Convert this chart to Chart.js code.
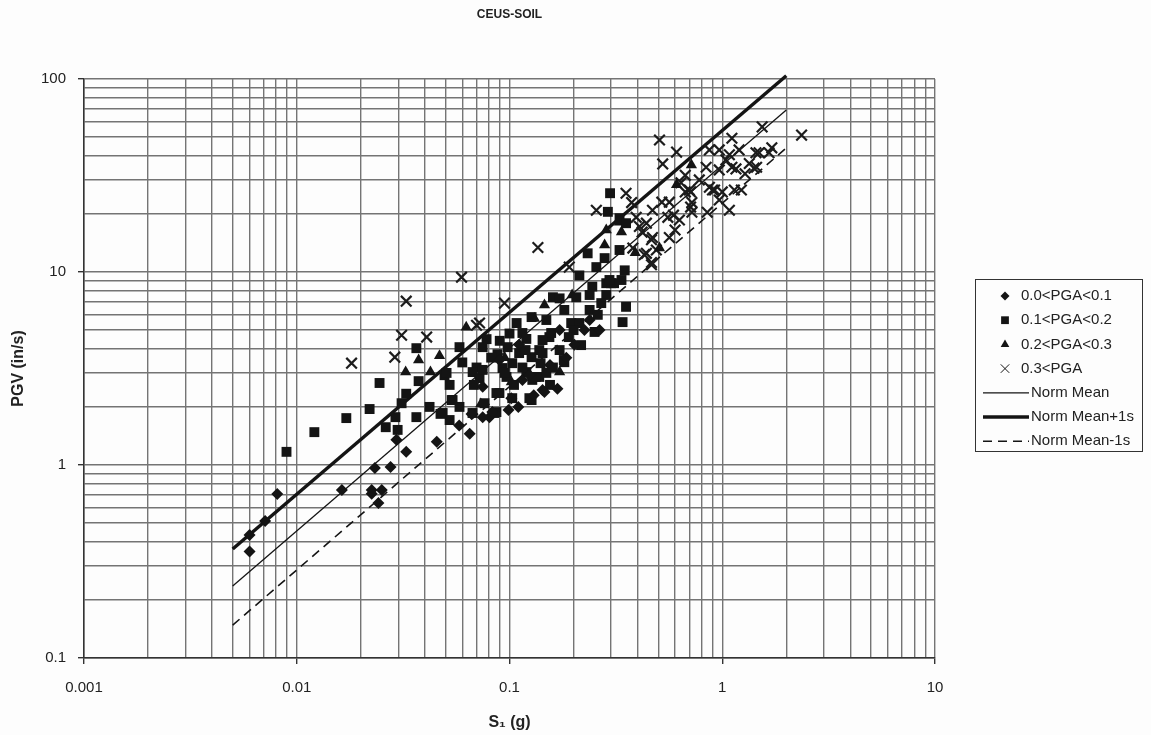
<!DOCTYPE html>
<html>
<head>
<meta charset="utf-8">
<script src="https://cdn.jsdelivr.net/npm/chart.js@4/dist/chart.umd.min.js"></script>
<style>
html, body { margin: 0; padding: 0; background: #fdfdfd; }
#wrap { width: 1151px; height: 735px; }
</style>
</head>
<body>
<div id="wrap"><canvas id="pgv" width="1151" height="735"></canvas></div>
<script>
// values: [S1 (g), PGV (in/s)] ----------------------------------------------------------------
var pga01 = [
  [0.0060,0.356],[0.0060,0.434],[0.0071,0.513],[0.0081,0.708],[0.0163,0.742],[0.0225,0.742],
  [0.0251,0.742],[0.0225,0.71],[0.0242,0.636],[0.0233,0.965],[0.0276,0.975],[0.0327,1.17],
  [0.0294,1.35],[0.0455,1.32],[0.0663,1.84],[0.0748,2.54],[0.0805,1.77],[0.0989,1.93],
  [0.102,2.22],[0.143,2.45],[0.168,2.48],[0.146,2.39],[0.083,1.88],[0.0748,1.77],[0.115,2.76],
  [0.0897,3.5],[0.111,4.2],[0.124,2.93],[0.172,5.0],[0.202,4.2],[0.238,5.64],[0.265,5.0],[0.225,5.0],
  [0.058,1.6],[0.11,2.0],[0.065,1.45],[0.13,2.3],[0.155,3.3],[0.185,3.6]
];
var pga12 = [
  [0.00895,1.17],[0.0121,1.48],[0.0171,1.75],[0.022,1.95],[0.0245,2.66],[0.0311,2.09],[0.0291,1.77],
  [0.0262,1.57],[0.0298,1.52],[0.0327,2.34],[0.0365,1.77],[0.0374,2.72],[0.0365,4.03],[0.0421,2.0],
  [0.0474,1.84],[0.0495,2.92],[0.0523,2.6],[0.0535,2.17],[0.0582,2.0],[0.0523,1.71],[0.0485,1.86],
  [0.0582,4.08],[0.078,4.49],[0.0878,3.75],[0.0868,2.36],[0.0868,1.88],[0.07,3.2],[0.0748,4.08],
  [0.0968,2.86],[0.0506,3.0],[0.0671,3.03],[0.0723,2.82],[0.0927,3.18],[0.098,4.08],[0.111,3.8],
  [0.127,3.62],[0.138,3.94],[0.154,4.6],[0.172,3.94],[0.181,3.41],[0.12,3.03],[0.138,2.86],
  [0.149,3.0],[0.128,2.76],[0.054,2.17],[0.067,1.86],[0.127,2.17],[0.0763,2.09],[0.0848,1.86],
  [0.103,2.22],[0.124,2.22],[0.0897,2.36],[0.0748,3.11],[0.103,3.37],[0.119,3.94],[0.133,2.86],
  [0.14,3.37],[0.18,3.5],[0.217,4.18],[0.251,4.89],[0.115,4.83],[0.108,5.44],[0.149,5.64],
  [0.127,5.84],[0.157,4.83],[0.195,5.44],[0.213,5.44],[0.181,6.36],[0.238,6.36],[0.16,7.4],
  [0.206,7.4],[0.238,7.6],[0.285,7.6],[0.285,8.75],[0.3,8.75],[0.336,9.09],[0.353,6.6],[0.34,5.5],
  [0.348,10.2],[0.28,11.8],[0.233,12.5],[0.256,10.6],[0.329,13.0],[0.329,19.0],[0.353,17.9],
  [0.29,20.5],[0.297,25.6],[0.213,9.6],[0.245,8.4],[0.172,7.3],[0.143,4.44],[0.143,3.8],
  [0.31,8.75],[0.295,9.09],
  [0.095,3.0],[0.105,2.6],[0.115,3.2],[0.09,4.4],[0.082,3.6],[0.16,3.2],[0.155,2.6],[0.068,2.6],
  [0.06,3.4],[0.2,5.0],[0.26,6.0],[0.27,6.9],[0.19,4.6],[0.12,4.5],[0.1,4.8]
];
var pga23 = [
  [0.0325,3.03],[0.0374,3.5],[0.0425,3.03],[0.0469,3.68],[0.0626,5.18],[0.0733,2.07],
  [0.197,7.6],[0.28,13.8],[0.285,16.5],[0.336,16.1],[0.329,18.1],[0.39,12.6],[0.507,13.3],
  [0.61,28.3],[0.716,35.8],[0.102,2.69],[0.172,3.03],[0.095,3.6],[0.131,5.75],[0.146,6.75]
];
var pga3 = [
  [0.0181,3.37],[0.0289,3.62],[0.0311,4.7],[0.0408,4.6],[0.0327,7.06],[0.0595,9.4],[0.07,5.3],
  [0.0947,6.9],[0.0723,5.44],[0.136,13.4],[0.191,10.6],[0.256,20.9],[0.353,25.6],[0.375,22.9],
  [0.38,13.3],[0.44,12.5],[0.465,11.2],[0.42,16.1],[0.44,17.9],[0.47,15.1],[0.408,17.2],
  [0.394,19.2],[0.465,14.7],[0.43,12.3],[0.49,13.0],[0.564,15.1],[0.564,23.0],[0.52,23.0],
  [0.47,20.9],[0.59,19.7],[0.629,18.6],[0.555,19.2],[0.67,26.0],[0.71,26.0],[0.71,21.7],
  [0.72,20.4],[0.85,20.4],[0.78,30.0],[0.84,34.9],[0.87,27.5],[0.92,26.6],[0.968,23.6],
  [1.08,20.9],[1.23,26.6],[1.14,26.6],[1.0,26.0],[0.968,42.9],[1.08,40.5],[1.2,42.9],[1.44,41.5],
  [1.16,34.2],[1.28,32.3],[1.41,34.5],[1.34,36.5],[1.49,41.5],[1.71,44.0],[1.54,56.5],[2.36,51.2],
  [1.11,49.3],[1.04,38.1],[0.507,48.3],[0.525,36.3],[0.61,41.8],[0.7,26.6],[0.9,26.6],[0.968,33.8],
  [1.11,34.9],[1.45,34.9],[1.66,41.5],[0.87,42.9],[0.64,29.0],[0.67,31.7],[0.72,22.9],[0.465,10.9],
  [0.6,16.5]
];

// fitted lines (end points)
var lineX = [0.005, 2];
var normMean = [0.236, 69];
var normMeanPlus = [0.367, 104];
var normMeanMinus = [0.148, 43.9];

var xLabels = [0.001, 0.01, 0.1, 1, 10];
var yLabels = [0.1, 1, 10, 100];

// --------------------------------------------------------------------------------------------
function pts(arr) { return arr.map(function (p) { return {x: p[0], y: p[1]}; }); }
function linePts(ys) { return lineX.map(function (x, i) { return {x: x, y: ys[i]}; }); }
function isLabel(list, v) {
  return list.some(function (l) { return Math.abs(v / l - 1) < 1e-6; });
}
function logTicks(min, max) {
  var out = [];
  for (var e = Math.round(Math.log10(min)); e <= Math.round(Math.log10(max)); e++) {
    for (var m = 1; m <= 9; m++) {
      var v = Number((m * Math.pow(10, e)).toPrecision(3));
      if (v >= min * 0.999 && v <= max * 1.001) out.push(v);
    }
  }
  return out;
}

Chart.defaults.font.family = '"Liberation Sans", Arial, sans-serif';
Chart.defaults.color = '#222';

var ink = '#141414';
var gridColor = '#747474';

var legendBox = {
  id: 'legendBox',
  afterDraw: function (chart) {
    var ctx = chart.ctx;
    ctx.save();
    ctx.strokeStyle = '#333';
    ctx.lineWidth = 1;
    ctx.strokeRect(975.5, 279.5, 167, 172);
    ctx.font = '15px "Liberation Sans", Arial, sans-serif';
    ctx.textBaseline = 'middle';
    chart.data.datasets.forEach(function (ds, i) {
      var y = 296 + i * 24.2;
      ctx.fillStyle = '#222';
      ctx.strokeStyle = ink;
      if (ds.showLine) {
        ctx.beginPath();
        ctx.setLineDash(ds.borderDash || []);
        ctx.lineWidth = ds.borderWidth;
        ctx.moveTo(983, y);
        ctx.lineTo(1029, y);
        ctx.stroke();
        ctx.setLineDash([]);
        ctx.fillText(ds.label, 1031, y);
      } else {
        ctx.fillStyle = ink;
        Chart.helpers.drawPoint(ctx, {
          pointStyle: ds.pointStyle, radius: ds.legendRadius, rotation: 0,
          borderWidth: ds.pointStyle === 'crossRot' ? 2 : 0
        }, 1005, y);
        ctx.fillStyle = '#222';
        ctx.fillText(ds.label, 1021, y);
      }
    });
    ctx.restore();
  }
};

function axis(min, max, labels, title, isX) {
  return {
    type: 'logarithmic',
    min: min,
    max: max,
    afterBuildTicks: function (scale) {
      scale.ticks = logTicks(min, max).map(function (v) {
        return {value: v, major: isLabel(labels, v)};
      });
    },
    afterFit: function (scale) {
      if (isX) scale.height = 77; else scale.width = 84;
    },
    ticks: {
      autoSkip: false,
      maxRotation: 0,
      padding: isX ? 15 : 12,
      font: {size: 15},
      color: '#222',
      callback: function (value) { return isLabel(labels, value) ? String(value) : ''; }
    },
    grid: {
      color: gridColor,
      lineWidth: 1.4,
      tickLength: 6,
      tickColor: function (c) {
        return c.tick && isLabel(labels, c.tick.value) ? '#333' : 'rgba(0,0,0,0)';
      }
    },
    border: {color: '#333', width: 1.5},
    title: {
      display: true,
      text: title,
      font: {size: 16, weight: 'bold'},
      color: '#222',
      padding: isX ? {top: 0, bottom: 3} : {top: 9, bottom: 0}
    }
  };
}

new Chart(document.getElementById('pgv').getContext('2d'), {
  type: 'scatter',
  data: {
    datasets: [
      {label: '0.0<PGA<0.1', data: pts(pga01), pointStyle: 'rectRot', pointRadius: 6, legendRadius: 4.5,
       backgroundColor: ink, borderColor: ink, borderWidth: 0},
      {label: '0.1<PGA<0.2', data: pts(pga12), pointStyle: 'rect', pointRadius: 7, legendRadius: 5.5,
       backgroundColor: ink, borderColor: ink, borderWidth: 0},
      {label: '0.2<PGA<0.3', data: pts(pga23), pointStyle: 'triangle', pointRadius: 6.5, legendRadius: 5,
       backgroundColor: ink, borderColor: ink, borderWidth: 0},
      {label: '0.3<PGA', data: pts(pga3), pointStyle: 'crossRot', pointRadius: 7.5, legendRadius: 6,
       backgroundColor: ink, borderColor: '#1c1c1c', borderWidth: 2.2},
      {label: 'Norm Mean', data: linePts(normMean), showLine: true, pointRadius: 0,
       borderColor: ink, borderWidth: 1.3, clip: false},
      {label: 'Norm Mean+1s', data: linePts(normMeanPlus), showLine: true, pointRadius: 0,
       borderColor: ink, borderWidth: 3.5, clip: false},
      {label: 'Norm Mean-1s', data: linePts(normMeanMinus), showLine: true, pointRadius: 0,
       borderColor: ink, borderWidth: 1.6, borderDash: [9, 6], clip: false}
    ]
  },
  options: {
    responsive: false,
    animation: false,
    events: [],
    layout: {padding: {left: 0, right: 216, top: 0, bottom: 0}},
    scales: {
      x: axis(0.001, 10, xLabels, 'S\u2081 (g)', true),
      y: axis(0.1, 100, yLabels, 'PGV (in/s)', false)
    },
    plugins: {
      legend: {display: false},
      tooltip: {enabled: false},
      title: {
        display: true,
        text: 'CEUS-SOIL',
        fullSize: false,
        color: '#222',
        font: {size: 12, weight: 'bold'},
        padding: {top: 7, bottom: 57.6}
      }
    }
  },
  plugins: [legendBox]
});
</script>
</body>
</html>
